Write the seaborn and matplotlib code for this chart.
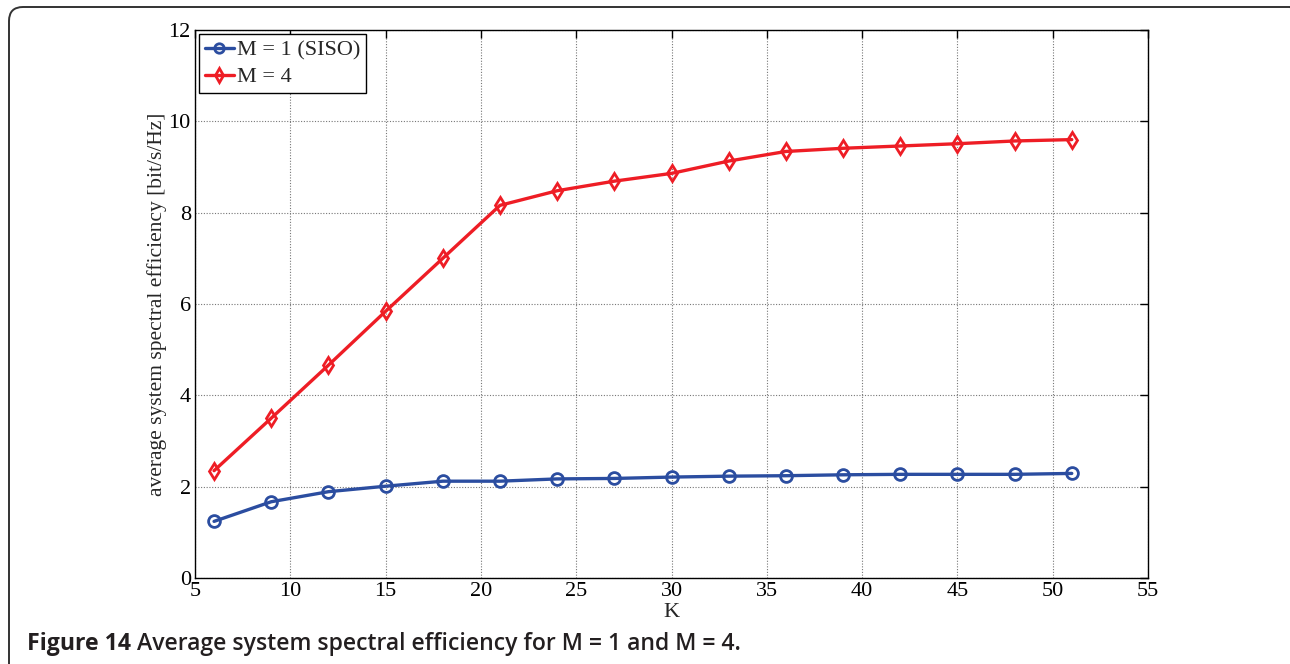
import numpy as np
import pandas as pd
import matplotlib
matplotlib.use("Agg")
import matplotlib.pyplot as plt
from matplotlib.patches import FancyBboxPatch
from matplotlib.transforms import IdentityTransform
import seaborn as sns

# Number of users K
k_values = [6, 9, 12, 15, 18, 21, 24, 27, 30, 33, 36, 39, 42, 45, 48, 51]
# Average system spectral efficiency [bit/s/Hz]
se_siso = [1.24, 1.67, 1.89, 2.01, 2.12, 2.12, 2.17, 2.18, 2.21, 2.23, 2.24, 2.26, 2.27, 2.27, 2.27, 2.29]
se_m4 = [2.35, 3.50, 4.66, 5.84, 7.00, 8.16, 8.48, 8.69, 8.86, 9.13, 9.34, 9.41, 9.46, 9.51, 9.57, 9.60]
series_labels = ["M = 1 (SISO)", "M = 4"]
x_ticks = [5, 10, 15, 20, 25, 30, 35, 40, 45, 50, 55]
y_ticks = [0, 2, 4, 6, 8, 10, 12]

sns.set_theme(style="white")
plt.rcParams["font.family"] = ["Liberation Serif", "DejaVu Serif"]

W, H = 1290, 664
fig = plt.figure(figsize=(W / 100, H / 100), dpi=100)
ax = fig.add_axes([195 / W, 1 - 578 / H, (1148 - 195) / W, (578 - 30) / H])

blue = "#2B4DA0"
red = "#EE1D25"

df = pd.DataFrame({
    "K": k_values * 2,
    "se": se_siso + se_m4,
    "series": [series_labels[0]] * len(k_values) + [series_labels[1]] * len(k_values),
})

for lab, col, mk in [(series_labels[0], blue, "o"), (series_labels[1], red, "d")]:
    sub = df[df["series"] == lab]
    sns.lineplot(data=sub, x="K", y="se", ax=ax, color=col, lw=2.4,
                 marker=mk, markersize=8.5, markerfacecolor="none",
                 markeredgecolor=col, markeredgewidth=2.0, label=lab)

ax.set_xlim(5, 55)
ax.set_ylim(0, 12)
ax.set_xticks(x_ticks)
ax.set_yticks(y_ticks)
ax.grid(True, linestyle=(0, (1, 1.5)), color="#777777", linewidth=0.8)
ax.tick_params(direction="in", length=6, width=1.0, top=True, right=True,
               labelsize=16, pad=3, colors="black")
for s in ax.spines.values():
    s.set_visible(True)
    s.set_color("black")
    s.set_linewidth(1.0)

ax.set_xlabel("K", fontsize=16, labelpad=1)
ax.set_ylabel("average system spectral efficiency [bit/s/Hz]", fontsize=15.5, labelpad=1)

leg = ax.legend(loc="upper left", fontsize=16, frameon=True, fancybox=False,
                edgecolor="black", framealpha=1, borderpad=0.25,
                handlelength=1.3, handletextpad=0.15, labelspacing=0.28,
                borderaxespad=0.2, markerscale=0.8)
leg.get_frame().set_linewidth(1.0)

# Rounded frame around the figure in pixel units (runs past the right and bottom edges)
frame = FancyBboxPatch((9, -30), 1304 - 9, (H - 7) + 30,
                       boxstyle="round,pad=0,rounding_size=14",
                       transform=IdentityTransform(), fill=False,
                       edgecolor="#333333", linewidth=1.4, clip_on=False)
fig.patches.append(frame)

cap_y = 1 - 650 / H
t1 = fig.text(27 / W, cap_y, "Figure 14", family="Open Sans",
              fontweight="bold", fontsize=16.6, color="#231F20", va="baseline")
fig.canvas.draw()
bb = t1.get_window_extent()
x2 = bb.x1 / W + 0.005
fig.text(x2, cap_y, "Average system spectral efficiency for M = 1 and M = 4.",
         family="Open Sans", fontweight="semibold", fontsize=16.6, color="#231F20",
         va="baseline")

fig.savefig("out.png", dpi=100)
